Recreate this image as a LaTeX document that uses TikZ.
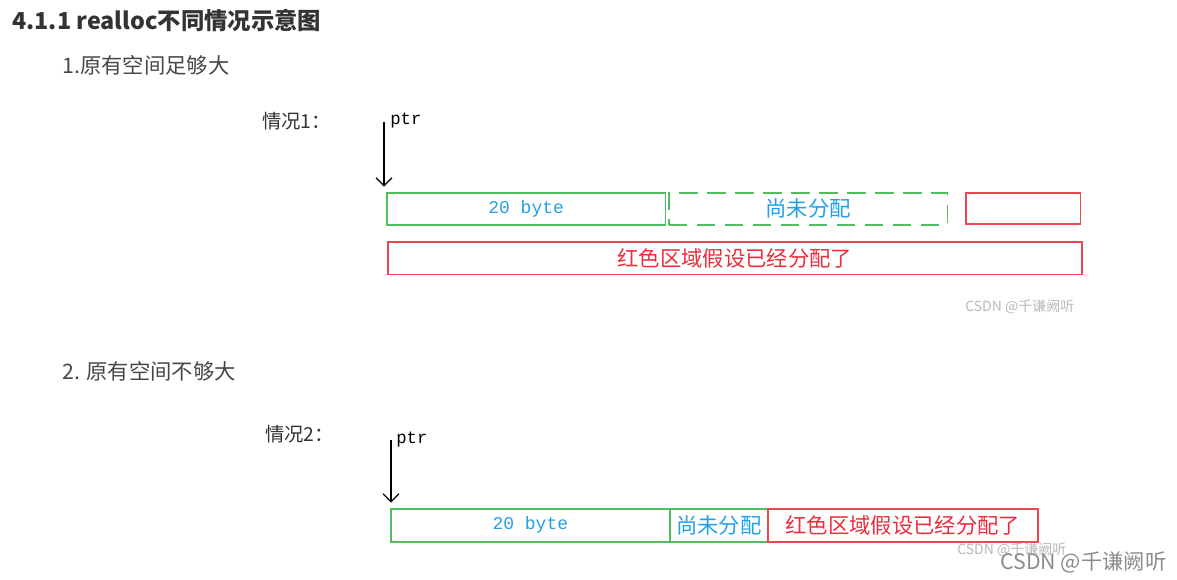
\documentclass[tikz,border=0pt]{standalone}
\usepackage{fontspec}
\setmainfont{Liberation Sans}
\newfontfamily\cjk{Noto Sans CJK SC}
\newfontfamily\monof{Liberation Mono}
\usetikzlibrary{positioning,arrows.meta,calc}
\definecolor{memgreen}{RGB}{80,190,95}
\definecolor{memred}{RGB}{238,70,80}
\definecolor{txtblue}{RGB}{35,160,230}
\definecolor{txtred}{RGB}{235,45,60}
\definecolor{headgrey}{RGB}{51,51,51}
\definecolor{markgrey}{RGB}{185,185,185}
\tikzset{
  head/.style={anchor=west,inner sep=0pt,text=headgrey,font=\cjk\bfseries\fontsize{17.5pt}{21pt}\selectfont},
  sub/.style={anchor=west,inner sep=0pt,text=headgrey!90,font=\cjk\fontsize{16pt}{19pt}\selectfont},
  case/.style={anchor=west,inner sep=0pt,text=black!80,font=\cjk\fontsize{14.5pt}{17pt}\selectfont},
  ptrtxt/.style={anchor=west,inner sep=0pt,font=\monof\fontsize{13pt}{15pt}\selectfont},
  ptrln/.style={-{Straight Barb[length=6pt,width=12pt]},line width=0.9pt,shorten >=4pt},
  cell/.style={draw,line width=1.2pt,inner sep=0pt,anchor=north west},
  greencell/.style={cell,draw=memgreen,text=txtblue},
  redcell/.style={cell,draw=memred,text=txtred},
  bytes/.style={font=\monof\fontsize{13.5pt}{15pt}\selectfont},
  cn/.style={font=\cjk\fontsize{16pt}{18pt}\selectfont},
  wmark/.style={anchor=west,inner sep=0pt,text=markgrey,font=\cjk\fontsize{10.5pt}{12pt}\selectfont},
}
\begin{document}
\begin{tikzpicture}[x=0.75pt,y=-0.75pt]
\useasboundingbox[fill=white] (0,0) rectangle (1177,580);

% Headings
\node[head] (title) at (12,20) {4.1.1 realloc不同情况示意图};
\node[sub] (s1) at (62,65) {1.原有空间足够大};
\node[sub] (s2) at (62,371) {2. 原有空间不够大};

% Case 1: enough room behind the block
\node[case] (c1) at (262,121) {情况1：};
\node[greencell,bytes,minimum width=209pt,minimum height=24pt] (a1) at (386,192) {20 byte};
\node[greencell,cn,dashed,dash pattern=on 14pt off 7pt,minimum width=209pt,minimum height=24pt] (f1) at (668,192) {尚未分配};
\node[redcell,minimum width=86pt,minimum height=23.5pt] (r1) at (965,192) {};
\node[redcell,cn,minimum width=520.5pt,minimum height=24.5pt] (big1) at (387,241) {红色区域假设已经分配了};
\coordinate (p1) at (384,122);
\draw[ptrln] (p1) -- (p1 |- a1.north);
\node[ptrtxt] (t1) at (390,121) {ptr};
\node[wmark] (w1) at (965,307) {CSDN @千谦阙听};

% Case 2: not enough room behind the block
\node[case] (c2) at (265,434) {情况2：};
\node[greencell,bytes,minimum width=209.25pt,minimum height=24.75pt] (a2) at (390,508) {20 byte};
\node[greencell,cn,minimum width=73.5pt,minimum height=24.75pt] (f2) at (669,508) {尚未分配};
\node[redcell,cn,minimum width=202.5pt,minimum height=24.75pt] (r2) at (767,508) {红色区域假设已经分配了};
\coordinate (p2) at (391,440);
\draw[ptrln] (p2) -- (p2 |- a2.north);
\node[ptrtxt] (t2) at (396,440) {ptr};
\node[wmark] (w2) at (957,550) {CSDN @千谦阙听};
\node[wmark,text=black!45,font=\cjk\fontsize{16pt}{18pt}\selectfont] (w3) at (1000,562) {CSDN @千谦阙听};

\end{tikzpicture}
\end{document}
